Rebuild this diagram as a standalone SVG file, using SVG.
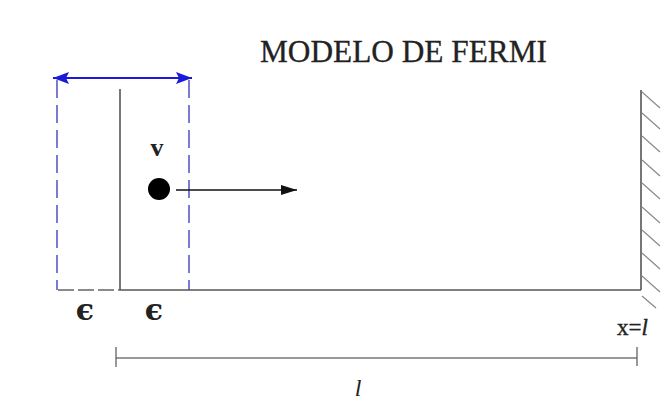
<svg xmlns="http://www.w3.org/2000/svg" width="668" height="407" viewBox="0 0 668 407">
<defs>
<marker id="blueHead" viewBox="0 0 16 12" refX="16" refY="6" markerWidth="16" markerHeight="12" orient="auto-start-reverse" markerUnits="userSpaceOnUse">
<path d="M0,0 L16,6 L0,12 L3,6 Z" fill="#1a1ad8"/>
</marker>
<marker id="blackHead" viewBox="0 0 16 10" refX="16" refY="5" markerWidth="16" markerHeight="10" orient="auto" markerUnits="userSpaceOnUse">
<path d="M0,0 L16,5 L0,10 Z" fill="#111"/>
</marker>
<style>
.t{font-family:"Liberation Serif","Times New Roman",serif;fill:#222}
.eps{font-family:"DejaVu Serif","Liberation Serif",serif;fill:#222;font-weight:bold}
.blue{stroke:#5a5ac8;stroke-width:1.6;stroke-dasharray:18 7;fill:none}
.ln{stroke:#555;stroke-width:1.6;fill:none}
.hatch{stroke:#888;stroke-width:1.2}
</style>
</defs>
<rect width="668" height="407" fill="#fff"/>

<g id="title"><text class="t" x="260" y="62" font-size="31.5" textLength="287" lengthAdjust="spacingAndGlyphs" stroke="#222" stroke-width="0.3">MODELO DE FERMI</text></g>

<g id="piston-region">
<line class="blue" x1="57" y1="80" x2="57" y2="290"/>
<line class="blue" x1="189" y1="80" x2="189" y2="290"/>
<line class="ln" x1="120" y1="89" x2="120" y2="290"/>
<line x1="58" y1="290" x2="120" y2="290" stroke="#666" stroke-width="1.6" stroke-dasharray="16 4"/>
</g>

<g id="container">
<line class="ln" x1="120" y1="290" x2="641" y2="290"/>
<line class="ln" x1="641" y1="90" x2="641" y2="290"/>
</g>

<g id="wall-hatch">
<line class="hatch" x1="642" y1="92" x2="660" y2="108"/>
<line class="hatch" x1="642" y1="113" x2="660" y2="129"/>
<line class="hatch" x1="642" y1="136" x2="660" y2="152"/>
<line class="hatch" x1="642" y1="160" x2="660" y2="176"/>
<line class="hatch" x1="642" y1="183" x2="660" y2="199"/>
<line class="hatch" x1="642" y1="207" x2="660" y2="223"/>
<line class="hatch" x1="642" y1="230" x2="660" y2="246"/>
<line class="hatch" x1="642" y1="253" x2="660" y2="269"/>
<line class="hatch" x1="642" y1="276" x2="660" y2="292"/>
<line class="hatch" x1="642" y1="296" x2="656" y2="308"/>
</g>

<g id="particle">
<circle cx="159" cy="189" r="11" fill="#000"/>
<text class="t" x="157" y="156" font-size="26" font-weight="bold" text-anchor="middle">v</text>
</g>

<g id="connectors">
<line x1="53" y1="78" x2="192" y2="78" stroke="#1a1ad8" stroke-width="2.2" marker-start="url(#blueHead)" marker-end="url(#blueHead)"/>
<line x1="176" y1="190" x2="297" y2="190" stroke="#111" stroke-width="1.3" marker-end="url(#blackHead)"/>
<line x1="116" y1="358" x2="637" y2="358" stroke="#777" stroke-width="1.6"/>
<line x1="116" y1="347" x2="116" y2="367" stroke="#555" stroke-width="1.2"/>
<line x1="637" y1="347" x2="637" y2="366" stroke="#555" stroke-width="1.2"/>
</g>

<g id="labels">
<text class="eps" x="85" y="320" font-size="30" text-anchor="middle">ϵ</text>
<text class="eps" x="154" y="320" font-size="30" text-anchor="middle">ϵ</text>
<text class="t" x="617" y="335" font-size="23" stroke="#222" stroke-width="0.4">x=<tspan font-style="italic">l</tspan></text>
<text class="t" x="358" y="396" font-size="24" font-style="italic" text-anchor="middle">l</text>
</g>
</svg>
